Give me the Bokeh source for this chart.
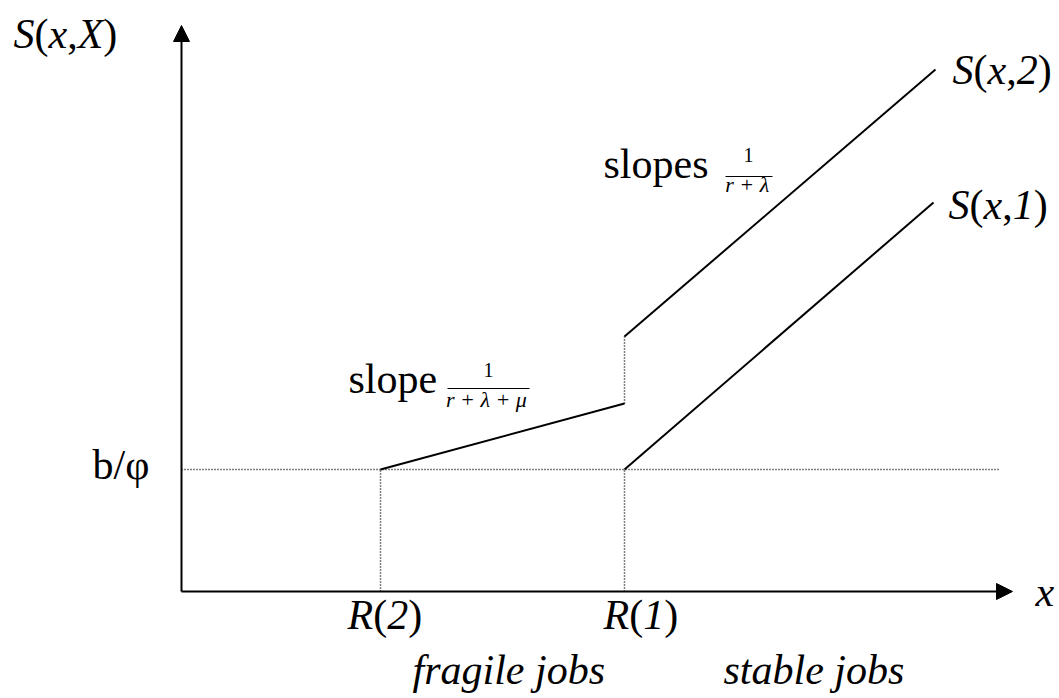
from bokeh.plotting import figure
from bokeh.models import Range1d, ColumnDataSource, Arrow, NormalHead
from bokeh.core.properties import value
from bokeh.embed import file_html
from bokeh.resources import INLINE

# ---------------- data (schematic units) ----------------
x_axis_end = 8.31
y_axis_end = 5.66
b_phi = 1.22                      # level b/phi
b_line_end = 8.19
R_x = [1.99, 4.43]                # R(2), R(1)
R_names = ["2", "1"]
s2_fragile_x = [1.99, 4.43]
s2_fragile_y = [1.22, 1.88]
s2_jump_y = [1.88, 2.55]
s2_stable_x = [4.43, 7.54]
s2_stable_y = [2.55, 5.22]
s1_x = [4.43, 7.52]
s1_y = [1.22, 3.89]

FONT = "Liberation Serif"
FS = 42

W, H = 1059, 698
PAGE0 = 0                          # page pixel where the figure starts
OX, OY, U = 181, 591, 100.0        # page pixel of origin, pixels per unit
TEXT_DY = 14                       # baseline correction for rendered text


def px_x(px):
    return (px - OX) / U


def px_y(py):
    return (OY - py) / U


def ty(py):
    return px_y(py - TEXT_DY)


p = figure(width=W, height=H, output_backend="svg", toolbar_location=None,
           x_range=Range1d(px_x(PAGE0), px_x(PAGE0 + W)),
           y_range=Range1d(px_y(PAGE0 + H), px_y(PAGE0)),
           min_border=0, x_axis_type=None, y_axis_type=None)
p.grid.visible = False
p.outline_line_color = None
p.background_fill_color = "white"
p.border_fill_color = "white"

# ---------------- axes with arrow heads ----------------
p.add_layout(Arrow(end=NormalHead(size=16, fill_color="black", line_color="black", line_width=1),
                   x_start=0, y_start=0, x_end=x_axis_end, y_end=0,
                   line_width=2, line_color="black"))
p.add_layout(Arrow(end=NormalHead(size=16, fill_color="black", line_color="black", line_width=1),
                   x_start=0, y_start=0, x_end=0, y_end=y_axis_end,
                   line_width=2, line_color="black"))

# ---------------- dotted guides ----------------
dot = dict(line_color="black", line_width=1.5, line_dash="1 2")
p.line([0, b_line_end], [b_phi, b_phi], **dot)
for rx in R_x:
    p.line([rx, rx], [0, b_phi], **dot)
p.line([s2_fragile_x[1], s2_fragile_x[1]], s2_jump_y, **dot)

# ---------------- S curves ----------------
solid = dict(line_color="black", line_width=2)
p.line(s2_fragile_x, s2_fragile_y, **solid)
p.line(s2_stable_x, s2_stable_y, **solid)
p.line(s1_x, s1_y, **solid)

# ---------------- text (Times metrics, Liberation Serif) ----------------
ROMAN = {' ': 250, '(': 333, ')': 333, ',': 250, '/': 278, '1': 500, '2': 500,
         'b': 500, 's': 389, 'l': 278, 'o': 500, 'p': 500, 'e': 444, '+': 564,
         'φ': 521}
ITALIC = {' ': 250, 'S': 500, 'x': 444, 'X': 611, 'R': 611, '1': 500, '2': 500,
          'r': 389, 'f': 278, 'a': 500, 'g': 500, 'i': 278, 'l': 278, 'e': 444,
          'j': 278, 'o': 500, 'b': 500, 's': 389, 't': 278, '(': 333, ')': 333,
          ',': 250, '+': 675, 'λ': 550, 'μ': 576}

T = dict(x=[], y=[], text=[], xo=[], style=[], size=[])


def runs_width(runs, size):
    w = 0.0
    for s, st in runs:
        tab = ITALIC if st == "italic" else ROMAN
        w += sum(tab.get(c, 500) for c in s) * size / 1000.0
    return w


def add_runs(x, y, runs, size=FS, align="left", dx=0.0):
    total = runs_width(runs, size)
    cur = dx - (total / 2 if align == "center" else 0)
    for s, st in runs:
        T["x"].append(x)
        T["y"].append(y)
        T["text"].append(s)
        T["xo"].append(cur)
        T["style"].append(st)
        T["size"].append(f"{size}px")
        cur += runs_width([(s, st)], size)


I, N = "italic", "normal"

# axis titles
add_runs(px_x(13), ty(47), [("S", I), ("(", N), ("x", I), (",", N), ("X", I), (")", N)])
add_runs(px_x(1035), ty(605), [("x", I)])
# level label
add_runs(0, ty(478), [("b/φ", N)], dx=-89)
# R labels
add_runs(R_x[0], ty(628), [("R", I), ("(", N), (R_names[0], I), (")", N)], dx=-33)
add_runs(R_x[1], ty(628), [("R", I), ("(", N), (R_names[1], I), (")", N)], dx=-21)
# region labels
add_runs(px_x(412), ty(683), [("fragile jobs", I)])
add_runs(px_x(723), ty(683), [("stable jobs", I)])
# curve labels
add_runs(s2_stable_x[-1], ty(83), [("S", I), ("(", N), ("x", I), (",", N), ("2", I), (")", N)], dx=17)
add_runs(s1_x[-1], ty(218), [("S", I), ("(", N), ("x", I), (",", N), ("1", I), (")", N)], dx=15)
# slope annotations
add_runs(px_x(603), ty(177), [("slopes", N)])
add_runs(px_x(748), ty(168), [("1", N)], size=20, align="center")
add_runs(px_x(748), ty(198), [("r + λ", I)], size=22, align="center")
add_runs(px_x(348), ty(392), [("slope", N)])
add_runs(px_x(488), ty(383), [("1", N)], size=20, align="center")
add_runs(px_x(488), ty(413), [("r + λ + μ", I)], size=22, align="center")

src = ColumnDataSource(T)
p.text(x="x", y="y", text="text", x_offset="xo", source=src,
       text_font=value(FONT), text_font_style="style", text_font_size="size",
       text_align="left", text_baseline="alphabetic", text_color="black")

# fraction bars
p.segment(x0=[px_x(725), px_x(447)], y0=[px_y(176), px_y(388)],
          x1=[px_x(772), px_x(529)], y1=[px_y(176), px_y(388)],
          line_color="black", line_width=1)

open("out.html", "w").write(file_html(p, INLINE))
